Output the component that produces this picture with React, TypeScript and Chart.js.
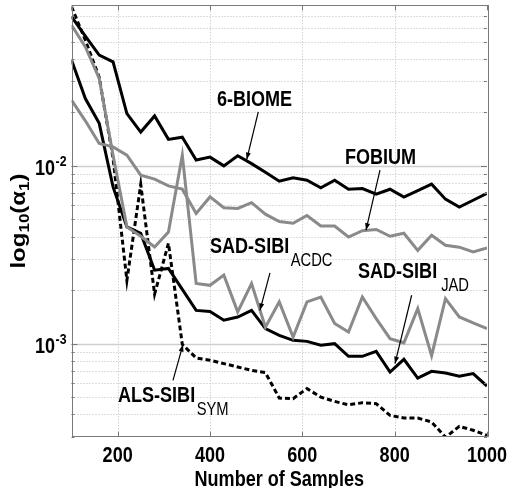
import { useEffect, useRef } from 'react';
import { Chart, registerables } from 'chart.js';

Chart.register(...registerables);

// ---------- data ----------
const samples = [100, 130, 160, 190, 220, 250, 280, 310, 340, 370, 400, 430, 460, 490, 520, 550, 580, 610, 640, 670, 700, 730, 760, 790, 820, 850, 880, 910, 940, 970, 1000];

const sixBiome = [0.069, 0.0537, 0.042, 0.0385, 0.0197, 0.0155, 0.0191, 0.0141, 0.0145, 0.0108, 0.0112, 0.01, 0.0114, 0.0103, 0.00922, 0.0082, 0.00858, 0.00831, 0.00754, 0.00831, 0.00739, 0.00746, 0.00693, 0.00739, 0.00667, 0.00725, 0.00789, 0.0065, 0.00586, 0.00641, 0.007];

const fobium = [0.02343, 0.01792, 0.01336, 0.01279, 0.01149, 0.00887, 0.00842, 0.00772, 0.0074, 0.0054, 0.00669, 0.00582, 0.00576, 0.00621, 0.00535, 0.00487, 0.00476, 0.00526, 0.00459, 0.00459, 0.00398, 0.00432, 0.00439, 0.00402, 0.00418, 0.00335, 0.00407, 0.00358, 0.00349, 0.00328, 0.00346];

const sadSibiAcdc = [0.0619, 0.0467, 0.031, 0.01149, 0.00454, 0.00402, 0.0035, 0.00425, 0.01149, 0.00218, 0.00213, 0.00243, 0.00151, 0.00218, 0.00124, 0.00172, 0.00109, 0.00172, 0.00183, 0.0013, 0.001163, 0.00183, 0.001384, 0.001068, 0.001012, 0.001576, 0.000857, 0.001794, 0.001414, 0.001308, 0.001216];

const sadSibiJad = [0.0394, 0.0239, 0.01734, 0.00762, 0.00454, 0.00417, 0.00259, 0.00265, 0.00202, 0.00154, 0.00152, 0.001355, 0.001413, 0.00154, 0.001216, 0.001115, 0.001045, 0.001031, 0.00098, 0.001001, 0.000849, 0.000849, 0.000906, 0.000693, 0.000817, 0.000641, 0.000699, 0.000684, 0.000656, 0.000679, 0.000578];

const alsSibiSym = [0.0786, 0.0509, 0.0315, 0.01105, 0.00227, 0.00786, 0.0019, 0.00367, 0.000992, 0.000831, 0.000807, 0.000773, 0.00074, 0.000708, 0.000688, 0.000495, 0.000491, 0.000559, 0.000501, 0.000474, 0.000453, 0.000466, 0.00046, 0.000395, 0.000382, 0.000382, 0.000363, 0.000298, 0.000343, 0.000326, 0.000305];

const xTickValues = [200, 400, 600, 800, 1000];
const xTickLabels = ['200', '400', '600', '800', '1000'];
const yMajorValues = [0.001, 0.01];
const yMajorBase = ['10', '10'];
const yMajorExp = ['-3', '-2'];
const yGridValues = [0.0003, 0.0004, 0.0005, 0.0006, 0.0007, 0.0008, 0.0009, 0.001, 0.002, 0.003, 0.004, 0.005, 0.006, 0.007, 0.008, 0.009, 0.01, 0.02, 0.03, 0.04, 0.05, 0.06, 0.07, 0.08];
const xTitle = 'Number of Samples';

// label text, anchor (data coords), arrow from/to (data coords)
const labelTexts = ['6-BIOME', 'FOBIUM', 'SAD-SIBI', 'SAD-SIBI', 'ALS-SIBI'];
const labelSubs = ['', '', 'ACDC', 'JAD', 'SYM'];
const labelAt = [[415, 0.0217], [692.4, 0.01031], [400, 0.00323], [720.5, 0.002334], [200.7, 0.000468]];
const arrowFrom = [[504.6, 0.0201], [768.2, 0.00946], [529.9, 0.0025], [836.8, 0.001873], [319.8, 0.000622]];
const arrowTo = [[479.5, 0.01086], [737.9, 0.00435], [508.2, 0.00154], [800.7, 0.000773], [341.5, 0.000989]];

// ---------- drawing helpers ----------
const SQ = 0.82;
const FAM = "'Liberation Sans', Arial, sans-serif";

function narrowText(ctx: CanvasRenderingContext2D, text: string, x: number, y: number, font: string, align = 'left') {
  ctx.save();
  ctx.font = font;
  const w = ctx.measureText(text).width * SQ;
  let x0 = x;
  if (align === 'center') x0 = x - w / 2;
  else if (align === 'right') x0 = x - w;
  ctx.translate(x0, y);
  ctx.scale(SQ, 1);
  ctx.textAlign = 'left';
  ctx.textBaseline = 'alphabetic';
  ctx.fillStyle = '#000';
  ctx.fillText(text, 0, 0);
  ctx.restore();
  return w;
}

const decorPlugin = {
  id: 'decor',
  beforeDatasetsDraw(chart: any) {
    const ctx: CanvasRenderingContext2D = chart.ctx;
    const { left, right, top, bottom } = chart.chartArea;
    const xs = chart.scales.x;
    const ys = chart.scales.y;
    ctx.save();
    ctx.fillStyle = '#fff';
    ctx.fillRect(left, top, right - left, bottom - top);
    ctx.strokeStyle = '#bdbdbd';
    ctx.lineWidth = 1;
    ctx.setLineDash([1, 2]);
    for (const v of xTickValues) {
      const px = Math.round(xs.getPixelForValue(v)) + 0.5;
      if (px >= right - 1) continue;
      ctx.beginPath();
      ctx.moveTo(px, top);
      ctx.lineTo(px, bottom);
      ctx.stroke();
    }
    for (const v of yGridValues) {
      const py = Math.round(ys.getPixelForValue(v)) + 0.5;
      if (py <= top + 1 || py >= bottom - 1) continue;
      if (yMajorValues.includes(v)) {
        ctx.setLineDash([]);
        ctx.strokeStyle = '#cfcfcf';
        ctx.lineWidth = 1.5;
      } else {
        ctx.setLineDash([1, 2]);
        ctx.strokeStyle = '#bdbdbd';
        ctx.lineWidth = 1;
      }
      ctx.beginPath();
      ctx.moveTo(left, py);
      ctx.lineTo(right, py);
      ctx.stroke();
    }
    ctx.restore();
  },
  afterDatasetsDraw(chart: any) {
    const ctx: CanvasRenderingContext2D = chart.ctx;
    const { left, right, top, bottom } = chart.chartArea;
    const xs = chart.scales.x;
    const ys = chart.scales.y;
    ctx.save();
    // box
    ctx.strokeStyle = '#7a7a7a';
    ctx.lineWidth = 1;
    ctx.setLineDash([]);
    ctx.strokeRect(Math.round(left) + 0.5, Math.round(top) + 0.5, Math.round(right - left), Math.round(bottom - top));
    // tick marks
    for (const v of yGridValues) {
      const py = Math.round(ys.getPixelForValue(v)) + 0.5;
      const len = yMajorValues.includes(v) ? 6 : 3;
      ctx.beginPath();
      ctx.moveTo(left, py); ctx.lineTo(left + len, py);
      ctx.moveTo(right, py); ctx.lineTo(right - len, py);
      ctx.stroke();
    }
    for (const v of xTickValues) {
      const px = Math.round(xs.getPixelForValue(v)) + 0.5;
      ctx.beginPath();
      ctx.moveTo(px, bottom); ctx.lineTo(px, bottom - 5);
      ctx.moveTo(px, top); ctx.lineTo(px, top + 5);
      ctx.stroke();
    }
    // x tick labels
    xTickValues.forEach((v, i) => {
      narrowText(ctx, xTickLabels[i], xs.getPixelForValue(v), bottom + 25, `bold 22px ${FAM}`, 'center');
    });
    // x title
    narrowText(ctx, xTitle, (left + right) / 2, bottom + 49, `bold 22px ${FAM}`, 'center');
    // y tick labels 10^k
    yMajorValues.forEach((v, i) => {
      const py = ys.getPixelForValue(v);
      ctx.font = `bold 15px ${FAM}`;
      const we = ctx.measureText(yMajorExp[i]).width * SQ;
      const xr = left - 5;
      narrowText(ctx, yMajorExp[i], xr - we, py + 0.5, `bold 15px ${FAM}`);
      narrowText(ctx, yMajorBase[i], xr - we - 0.5, py + 9.5, `bold 22px ${FAM}`, 'right');
    });
    // y title, rotated: log10(α1)
    {
      const parts: [string, number, number][] = [
        ['log', 24, 0], ['10', 17, 5], ['(\u03b1', 24, 0], ['1', 17, 5], [')', 24, 0],
      ];
      ctx.save();
      ctx.translate(25, (top + bottom) / 2);
      ctx.rotate(-Math.PI / 2);
      ctx.scale(1, SQ);
      let total = 0;
      for (const [t, s] of parts) { ctx.font = `bold ${s}px ${FAM}`; total += ctx.measureText(t).width; }
      let x = -total / 2;
      ctx.fillStyle = '#000';
      ctx.textBaseline = 'alphabetic';
      for (const [t, s, dy] of parts) {
        ctx.font = `bold ${s}px ${FAM}`;
        ctx.fillText(t, x, dy);
        x += ctx.measureText(t).width;
      }
      ctx.restore();
    }
    // annotations
    labelTexts.forEach((t, i) => {
      const tx = xs.getPixelForValue(labelAt[i][0]);
      const ty = ys.getPixelForValue(labelAt[i][1]);
      const w = narrowText(ctx, t, tx, ty, `bold 22px ${FAM}`);
      if (labelSubs[i]) {
        narrowText(ctx, labelSubs[i], tx + w + (labelSubs[i] === 'JAD' ? 4 : 1.5), ty + 13, `18px ${FAM}`);
      }
      const x1 = xs.getPixelForValue(arrowFrom[i][0]);
      const y1 = ys.getPixelForValue(arrowFrom[i][1]);
      const x2 = xs.getPixelForValue(arrowTo[i][0]);
      const y2 = ys.getPixelForValue(arrowTo[i][1]);
      ctx.strokeStyle = '#000';
      ctx.fillStyle = '#000';
      ctx.lineWidth = 1.2;
      ctx.beginPath();
      ctx.moveTo(x1, y1);
      ctx.lineTo(x2, y2);
      ctx.stroke();
      const ang = Math.atan2(y2 - y1, x2 - x1);
      const L = 7, W = 2.5;
      ctx.beginPath();
      ctx.moveTo(x2, y2);
      ctx.lineTo(x2 - L * Math.cos(ang) + W * Math.sin(ang), y2 - L * Math.sin(ang) - W * Math.cos(ang));
      ctx.lineTo(x2 - L * Math.cos(ang) - W * Math.sin(ang), y2 - L * Math.sin(ang) + W * Math.cos(ang));
      ctx.closePath();
      ctx.fill();
    });
    ctx.restore();
  },
};

function series(values: number[]) {
  return values.map((v, i) => ({ x: samples[i], y: v }));
}

export default function App() {
  const ref = useRef<HTMLCanvasElement | null>(null);
  useEffect(() => {
    if (!ref.current) return;
    const mk = (label: string, data: number[], color: string, dash: number[] = []) => ({
      label,
      data: series(data),
      borderColor: color,
      backgroundColor: color,
      borderWidth: 3,
      borderDash: dash,
      pointRadius: 0,
      fill: false,
      tension: 0,
    });
    const chart = new Chart(ref.current, {
      type: 'line',
      data: {
        datasets: [
          mk('FOBIUM', fobium, '#8a8a8a'),
          mk('SAD-SIBI ACDC', sadSibiAcdc, '#8a8a8a'),
          mk('SAD-SIBI JAD', sadSibiJad, '#000000'),
          mk('6-BIOME', sixBiome, '#000000'),
          mk('ALS-SIBI SYM', alsSibiSym, '#000000', [5, 3]),
        ],
      },
      options: {
        responsive: false,
        animation: false,
        events: [],
        layout: { padding: { top: 5.3, right: 21, left: 0, bottom: 0 } },
        plugins: { legend: { display: false }, tooltip: { enabled: false } },
        scales: {
          x: {
            type: 'linear',
            min: 100,
            max: 1000,
            ticks: { display: false },
            grid: { display: false },
            border: { display: false },
            afterFit: (s: any) => { s.height = 51.3; },
          },
          y: {
            type: 'logarithmic',
            min: 0.0003,
            max: 0.08,
            ticks: { display: false },
            grid: { display: false },
            border: { display: false },
            afterFit: (s: any) => { s.width = 71.5; },
          },
        },
      } as any,
      plugins: [decorPlugin],
    });
    return () => chart.destroy();
  }, []);
  return (
    <div style={{ position: 'absolute', left: 0, top: 0, width: 508, height: 488, background: '#fff' }}>
      <canvas ref={ref} width={508} height={488} style={{ display: 'block', width: 508, height: 488 }} />
    </div>
  );
}
